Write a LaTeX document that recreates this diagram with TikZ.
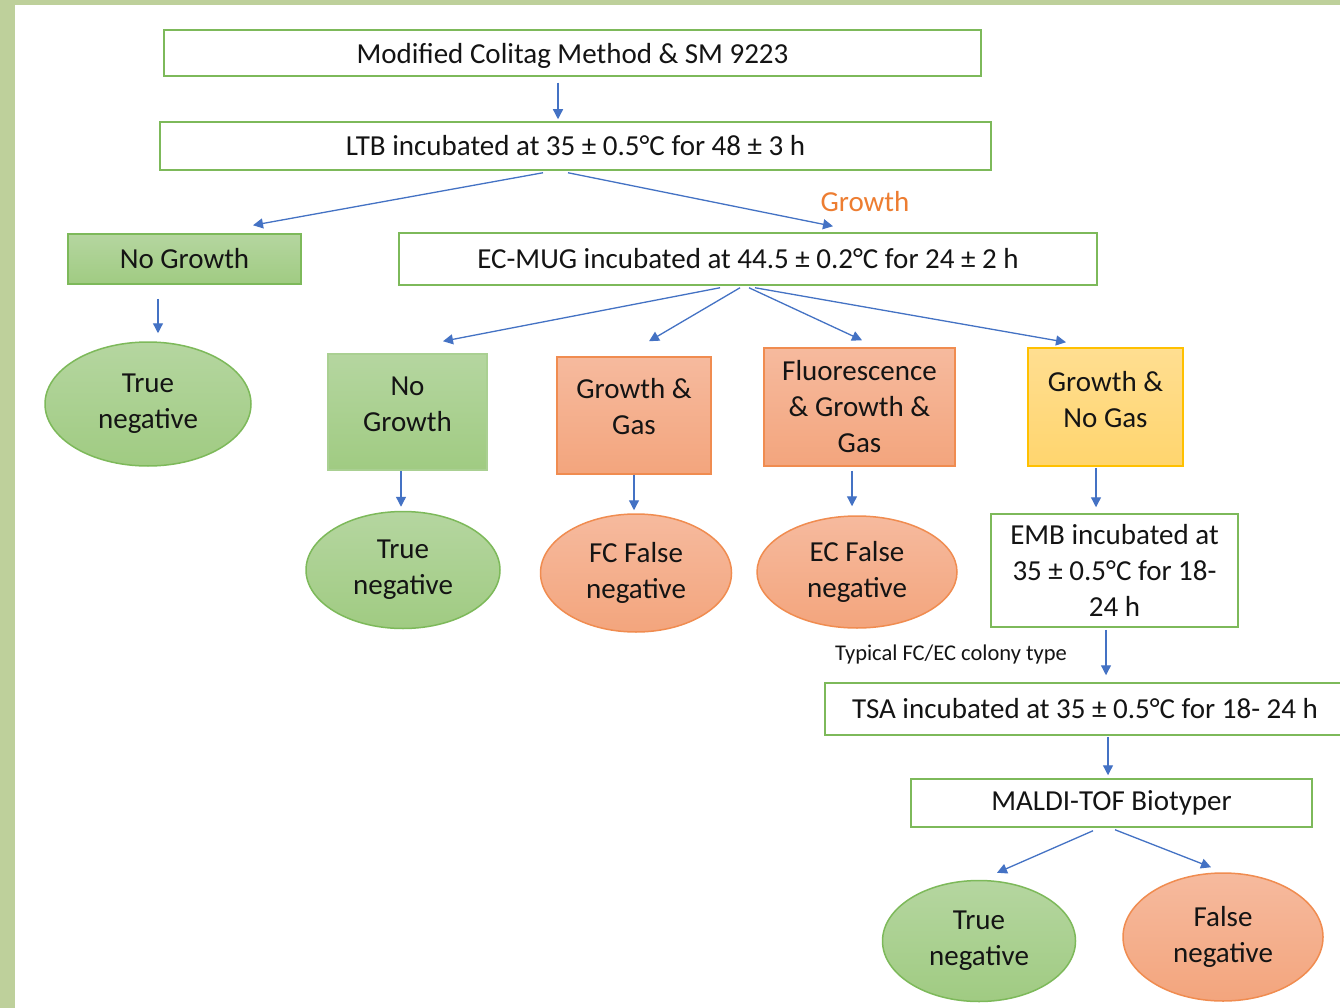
\documentclass[tikz,border=0pt]{standalone}
\usepackage{fontspec}
\setmainfont{Carlito}
\usetikzlibrary{shapes.geometric,arrows.meta}
\definecolor{bgframe}{RGB}{190,208,155}
\definecolor{gborder}{RGB}{125,185,90}
\definecolor{gtop}{RGB}{181,214,160}
\definecolor{gbot}{RGB}{160,203,130}
\definecolor{otop}{RGB}{246,186,158}
\definecolor{obot}{RGB}{243,165,125}
\definecolor{oborder}{RGB}{240,140,80}
\definecolor{ytop}{RGB}{255,222,145}
\definecolor{ybot}{RGB}{255,213,110}
\definecolor{yborder}{RGB}{255,192,0}
\definecolor{arrblue}{RGB}{68,114,196}
\definecolor{orangetxt}{RGB}{237,125,49}
\definecolor{txt}{RGB}{20,20,20}
\tikzset{
  base/.style={inner sep=0pt, align=center, text=txt, font=\fontsize{29}{36}\selectfont},
  wbox/.style={base, rectangle, draw=gborder, line width=1.5pt, fill=white},
  gbox/.style={base, rectangle, draw=gborder, line width=1.5pt, top color=gtop, bottom color=gbot},
  gboxl/.style={base, rectangle, draw=gtop!80!gborder, line width=1.5pt, top color=gtop, bottom color=gbot},
  obox/.style={base, rectangle, draw=oborder, line width=1.5pt, top color=otop, bottom color=obot},
  ybox/.style={base, rectangle, draw=yborder, line width=1.5pt, top color=ytop, bottom color=ybot},
  gell/.style={base, ellipse, draw=gborder, line width=1.5pt, top color=gtop, bottom color=gbot},
  oell/.style={base, ellipse, draw=oborder, line width=1.5pt, top color=otop, bottom color=obot},
  arr/.style={draw=arrblue, line width=1.3pt, -{Triangle[length=10pt,width=10pt]}},
}
\begin{document}
\begin{tikzpicture}[x=1pt,y=-1pt]
\useasboundingbox (0,0) rectangle (1340,1008);
\fill[bgframe] (0,0) rectangle (1340,1008);
\fill[white] (15,5) rectangle (1340,1008);

\node[wbox, minimum width=817pt, minimum height=46pt, text height=23pt, text depth=1pt] (top) at (572.5,53) {Modified Colitag Method \& SM 9223};
\node[wbox, minimum width=831pt, minimum height=48pt] (ltb) at (575.5,146) {LTB incubated at 35 ± 0.5°C for 48 ± 3 h};
\node[gbox, minimum width=233pt, minimum height=50pt] (nog1) at (184.5,259) {No Growth};
\node[wbox, minimum width=698pt, minimum height=52pt] (ecmug) at (748,259) {EC-MUG incubated at 44.5 ± 0.2°C for 24 ± 2 h};
\node[base, text=orangetxt] (growth) at (865,202) {Growth};

\node[gell, minimum width=206pt, minimum height=124pt] (tn1) at (148,404) {True\\negative};

\node[gboxl, minimum width=159pt, minimum height=116pt, text depth=16pt] (nog2) at (407.5,412) {No\\Growth};
\node[obox, minimum width=154pt, minimum height=117pt, text depth=19pt] (gg) at (634,415.5) {Growth \&\\Gas};
\node[obox, minimum width=191pt, minimum height=118pt] (fl) at (859.5,407) {Fluorescence\\\& Growth \&\\Gas};
\node[ybox, minimum width=155pt, minimum height=118pt, text depth=16pt] (gng) at (1105.5,407) {Growth \&\\No Gas};

\node[gell, minimum width=194pt, minimum height=117pt] (tn2) at (403,570) {True\\negative};
\node[oell, minimum width=191pt, minimum height=118pt] (fc) at (636,573) {FC False\\negative};
\node[oell, minimum width=200pt, minimum height=112pt] (ec) at (857,572) {EC False\\negative};
\node[wbox, minimum width=247pt, minimum height=113pt, text depth=-7pt] (emb) at (1114.5,570.5) {EMB incubated at\\35 ± 0.5°C for 18-\\24 h};

\node[base, font=\fontsize{22.5}{27}\selectfont] (typ) at (951,654) {Typical FC/EC colony type};

\node[wbox, minimum width=520pt, minimum height=52pt] (tsa) at (1085,709) {TSA incubated at 35 ± 0.5°C for 18- 24 h};
\node[wbox, minimum width=401pt, minimum height=48pt] (maldi) at (1111.5,803) {MALDI-TOF Biotyper};

\node[gell, minimum width=193pt, minimum height=121pt] (tn3) at (979,941) {True\\negative};
\node[oell, minimum width=200pt, minimum height=128pt] (fn) at (1223,937) {False\\negative};

\draw[arr] ([xshift=-14.5pt,yshift=-6pt]top.south) -- ([xshift=-17.5pt,yshift=2pt]ltb.north);
\draw[arr] ([xshift=-32.5pt,yshift=-2pt]ltb.south) -- ([xshift=68.5pt,yshift=8pt]nog1.north);
\draw[arr] ([xshift=-7.5pt,yshift=-2pt]ltb.south) -- ([xshift=85pt,yshift=6pt]ecmug.north);
\draw[arr] ([xshift=-26.5pt,yshift=-14pt]nog1.south) -- ([xshift=10pt,yshift=8pt]tn1.north);
\draw[arr] ([xshift=-28pt,yshift=-2pt]ecmug.south) -- ([xshift=35.5pt,yshift=12pt]nog2.north);
\draw[arr] ([xshift=-8pt,yshift=-2pt]ecmug.south) -- ([xshift=15pt,yshift=15pt]gg.north);
\draw[arr] ([xshift=1pt,yshift=-2pt]ecmug.south) -- ([xshift=2.5pt,yshift=7pt]fl.north);
\draw[arr] ([xshift=7pt,yshift=-2pt]ecmug.south) -- ([xshift=-39.5pt,yshift=5pt]gng.north);
\draw[arr] ([xshift=-6.5pt]nog2.south) -- ([xshift=-2pt,yshift=4pt]tn2.north);
\draw[arr] (gg.south) -- ([xshift=-2pt,yshift=3pt]fc.north);
\draw[arr] ([xshift=-7.5pt,yshift=-4pt]fl.south) -- ([xshift=-5pt,yshift=9pt]ec.north);
\draw[arr] ([xshift=-9.5pt,yshift=-1pt]gng.south) -- ([xshift=-18.5pt,yshift=6pt]emb.north);
\draw[arr] ([xshift=-8.5pt,yshift=-2pt]emb.south) -- ([xshift=21pt,yshift=7pt]tsa.north);
\draw[arr] ([xshift=23pt,yshift=-1pt]tsa.south) -- ([xshift=-3.5pt,yshift=3pt]maldi.north);
\draw[arr] ([xshift=-18.5pt,yshift=-3pt]maldi.south) -- ([xshift=18pt,yshift=7pt]tn3.north);
\draw[arr] ([xshift=3.5pt,yshift=-2pt]maldi.south) -- ([xshift=-12pt,yshift=5pt]fn.north);
\end{tikzpicture}
\end{document}
